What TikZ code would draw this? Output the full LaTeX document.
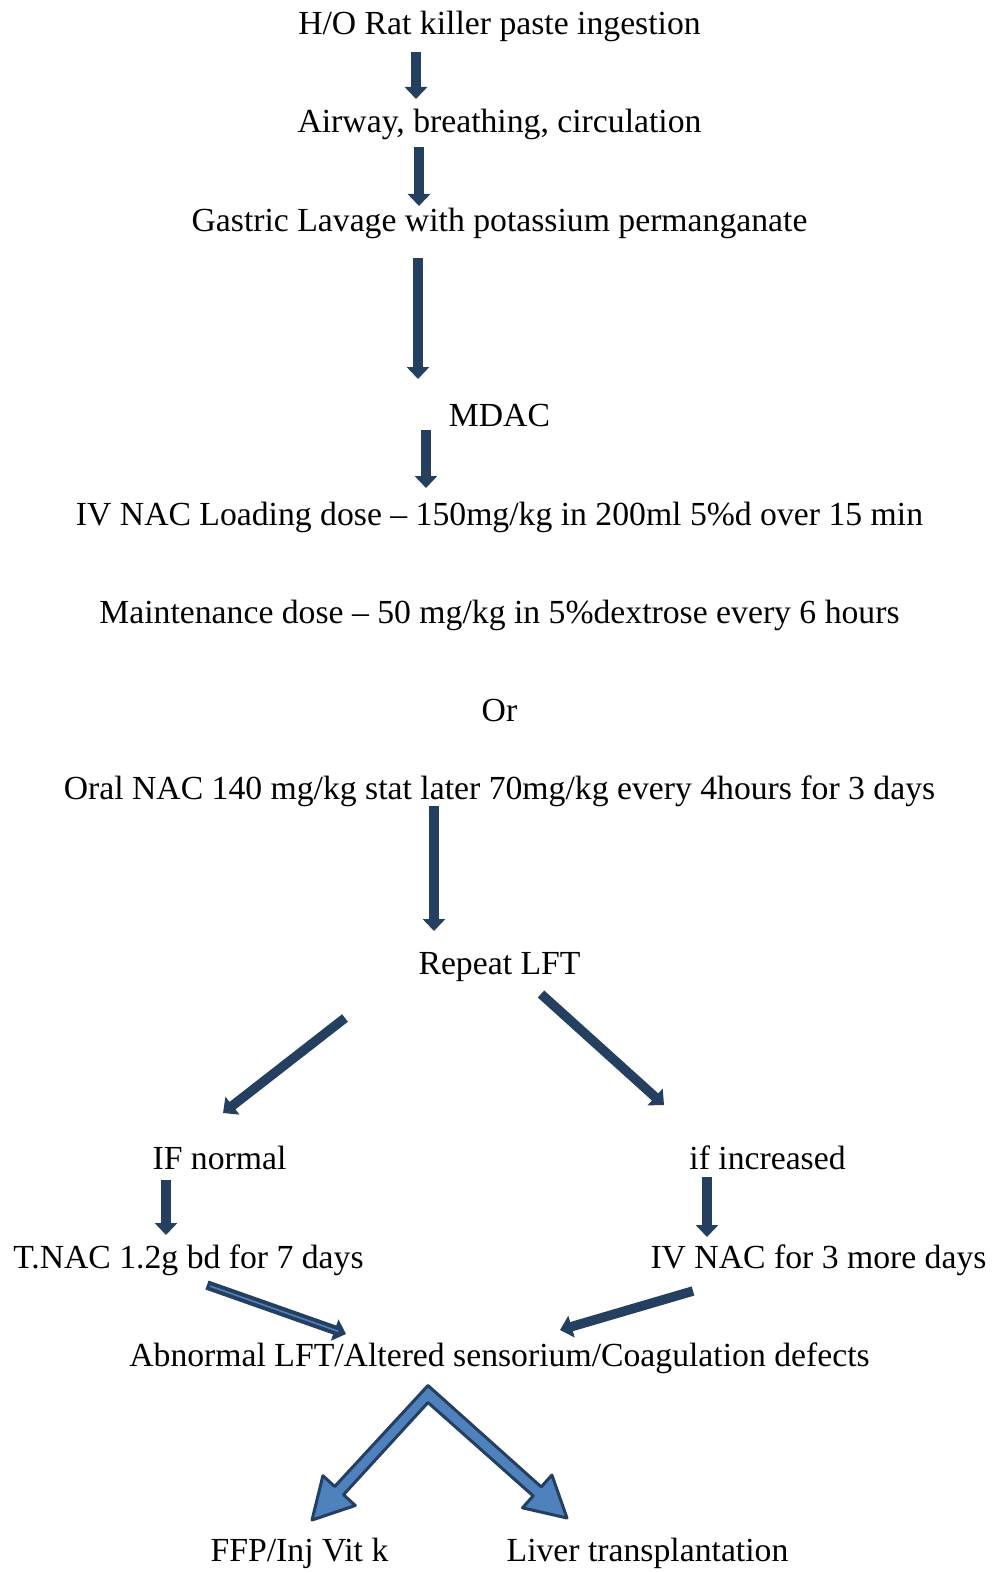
\documentclass[tikz,border=0pt]{standalone}
\usepackage{fontspec}
\setmainfont{Liberation Serif}
\usetikzlibrary{arrows.meta}
\definecolor{navy}{RGB}{36,63,96}
\definecolor{lightblue}{RGB}{79,129,189}
\begin{document}
\begin{tikzpicture}[x=1pt,y=-1pt,
  lbl/.style={anchor=base,inner sep=0pt,font=\fontsize{33.7}{40}\selectfont},
  flowarrow/.style={draw=navy,line width=9.5pt,-{Triangle[width=22pt,length=12pt]}}]
\useasboundingbox[fill=white] (0,0) rectangle (994,1573);
\node[lbl] (t1) at (499.5,35) {H/O Rat killer paste ingestion};
\node[lbl] (t2) at (499.5,133) {Airway, breathing, circulation};
\node[lbl] (t3) at (499.5,231) {Gastric Lavage with potassium permanganate};
\node[lbl] (t4) at (499.5,426) {MDAC};
\node[lbl] (t5) at (499.5,525) {IV NAC Loading dose -- 150mg/kg in 200ml 5\%d over 15 min};
\node[lbl] (t6) at (499.5,623) {Maintenance dose -- 50 mg/kg in 5\%dextrose every 6 hours};
\node[lbl] (t7) at (499.5,721) {Or};
\node[lbl] (t8) at (499.5,799) {Oral NAC 140 mg/kg stat later 70mg/kg every 4hours for 3 days};
\node[lbl] (t9) at (499.5,974) {Repeat LFT};
\node[lbl] (t10) at (219.5,1169) {IF normal};
\node[lbl] (t11) at (767.5,1169) {if increased};
\node[lbl] (t12) at (188.5,1268) {T.NAC 1.2g bd for 7 days};
\node[lbl] (t13) at (818.5,1268) {IV NAC for 3 more days};
\node[lbl] (t14) at (499.5,1366) {Abnormal LFT/Altered sensorium/Coagulation defects};
\node[lbl] (t15) at (299.5,1561) {FFP/Inj Vit k};
\node[lbl] (t16) at (647.5,1561) {Liver transplantation};
% arrow endpoints
\coordinate (a1s) at (416,52);  \coordinate (a1e) at (416,99);
\coordinate (a2s) at (419,147); \coordinate (a2e) at (419,206);
\coordinate (a3s) at (418,258); \coordinate (a3e) at (418,379);
\coordinate (a4s) at (426,430); \coordinate (a4e) at (426,488);
\coordinate (a5s) at (434,806); \coordinate (a5e) at (434,931);
\coordinate (a6s) at (345,1018); \coordinate (a6e) at (223,1113);
\coordinate (a7s) at (541,994); \coordinate (a7e) at (664,1105);
\coordinate (a8s) at (166,1180); \coordinate (a8e) at (166,1235);
\coordinate (a9s) at (707,1177); \coordinate (a9e) at (707,1237);
\coordinate (a10s) at (207,1285); \coordinate (a10e) at (346,1334);
\coordinate (a11s) at (693,1291); \coordinate (a11e) at (560,1330);
\foreach \i in {1,...,9,11} \draw[flowarrow] (a\i s) -- (a\i e);
\draw[flowarrow] (a10s) -- (a10e);
\draw[draw=lightblue,line width=1.6pt,shorten >=8pt,shorten <=3pt] (a10s) -- (a10e);
% bent block arrow
\draw[navy,fill=lightblue,line width=3pt,line join=round]
  (428,1385.5) -- (334.7,1486.5) -- (322.9,1475.7) -- (312,1520) -- (355.3,1505.5) -- (343.5,1494.7)
  -- (428,1402.5) -- (533.2,1495.9) -- (522.5,1507.8) -- (567,1518) -- (551.9,1475.0) -- (541.2,1486.9) -- cycle;
\end{tikzpicture}
\end{document}
